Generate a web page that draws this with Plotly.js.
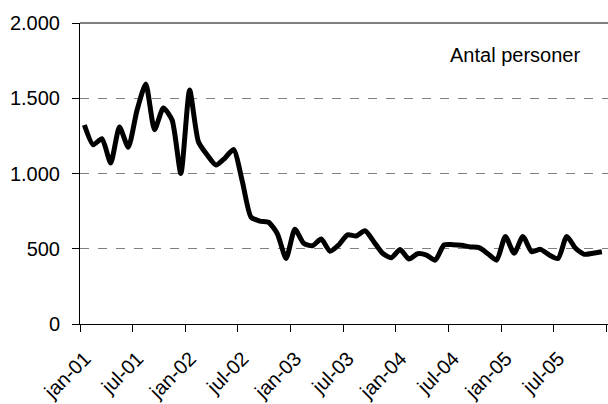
<!DOCTYPE html>
<html>
<head>
<meta charset="utf-8">
<script src="https://cdn.plot.ly/plotly-3.0.1.min.js"></script>
<style>
html,body{margin:0;padding:0;overflow:hidden;background:#fff;}
#chart{width:608px;height:404px;}
</style>
</head>
<body>
<div id="chart"></div>
<script>
// Monthly values, jan-01 .. dec-05
const months = ["jan-01","feb-01","mar-01","apr-01","maj-01","jun-01","jul-01","aug-01","sep-01","okt-01","nov-01","dec-01",
  "jan-02","feb-02","mar-02","apr-02","maj-02","jun-02","jul-02","aug-02","sep-02","okt-02","nov-02","dec-02",
  "jan-03","feb-03","mar-03","apr-03","maj-03","jun-03","jul-03","aug-03","sep-03","okt-03","nov-03","dec-03",
  "jan-04","feb-04","mar-04","apr-04","maj-04","jun-04","jul-04","aug-04","sep-04","okt-04","nov-04","dec-04",
  "jan-05","feb-05","mar-05","apr-05","maj-05","jun-05","jul-05","aug-05","sep-05","okt-05","nov-05","dec-05"];
const persons = [1322,1191,1231,1070,1309,1174,1420,1595,1291,1435,1355,1000,
  1555,1211,1123,1056,1101,1160,950,710,684,676,600,435,
  630,536,520,565,483,525,592,585,620,547,470,440,
  495,432,467,458,424,525,527,523,512,507,467,424,
  582,470,582,480,496,458,435,582,503,463,470,480];
const xTickLabels = ["jan-01","jul-01","jan-02","jul-02","jan-03","jul-03","jan-04","jul-04","jan-05","jul-05",""];
const yTickValues = [0,500,1000,1500,2000];
const seriesName = "Antal personer";

const xIdx = months.map((m,i)=>i);
const xTickVals = xTickLabels.map((t,i)=>i*6-0.5);

const trace = {
  x: xIdx, y: persons, type: 'scatter', mode: 'lines', name: seriesName,
  line: {color: '#000', width: 5, shape: 'spline', smoothing: 0.6},
  hoverinfo: 'skip'
};

const font = {family: 'Liberation Sans, Arial, sans-serif', size: 20, color: '#000'};

const layout = {
  width: 608, height: 404,
  margin: {l: 80, r: 0, t: 23, b: 80},
  paper_bgcolor: '#fff', plot_bgcolor: '#fff',
  showlegend: false,
  separators: ',.',
  font: font,
  xaxis: {
    range: [-0.5, 59.7], showgrid: false, zeroline: false,
    showline: true, linecolor: '#000', linewidth: 1, mirror: false,
    tickmode: 'array', tickvals: xTickVals, ticktext: xTickLabels,
    ticks: 'outside', ticklen: 7, tickcolor: '#000', tickwidth: 1,
    tickangle: -45, tickfont: font, ticklabelstandoff: 7, ticklabelshift: 5
  },
  yaxis: {
    range: [0, 2000], tickmode: 'array', tickvals: yTickValues, tickformat: ',d',
    showgrid: true, gridcolor: '#808080', griddash: 'dash', gridwidth: 1,
    zeroline: false, showline: true, linecolor: '#000', linewidth: 1,
    ticks: 'outside', ticklen: 7, tickcolor: '#000', tickwidth: 1,
    tickfont: font, ticklabelstandoff: 8
  },
  shapes: [{type: 'line', xref: 'paper', yref: 'paper', x0: 0, x1: 1, y0: 1, y1: 1,
    line: {color: '#000', width: 1}}],
  annotations: [{text: seriesName, xref: 'paper', yref: 'paper', x: 0.824, y: 0.894,
    xanchor: 'center', yanchor: 'middle', showarrow: false, font: font}]
};

Plotly.newPlot('chart', [trace], layout, {staticPlot: true, displayModeBar: false});
</script>
</body>
</html>
